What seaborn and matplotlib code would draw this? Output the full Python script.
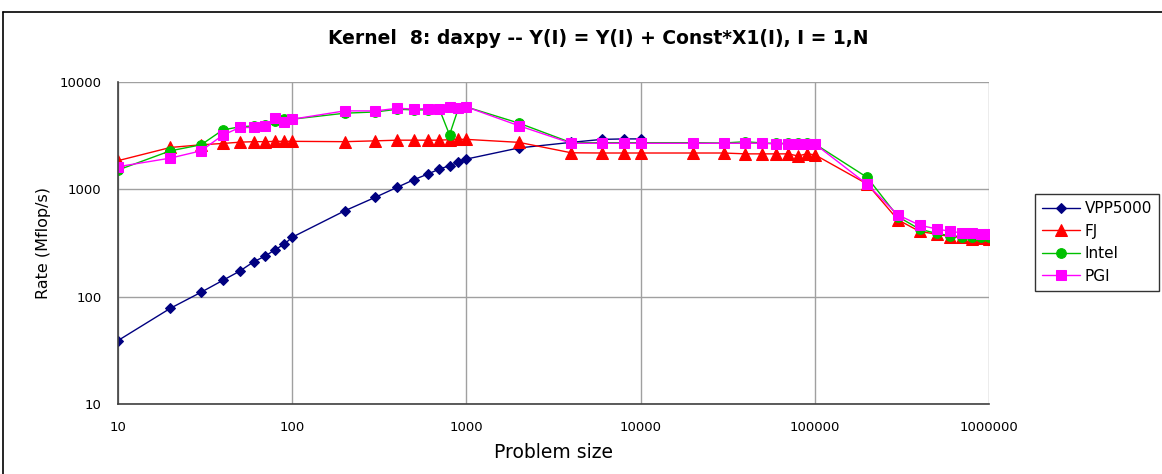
import numpy as np
import pandas as pd
import matplotlib
matplotlib.use("Agg")
import matplotlib.pyplot as plt
from matplotlib.lines import Line2D
import seaborn as sns

# Problem sizes (N) for each measured run
sizes_small = [10, 20, 30, 40, 50, 60, 70, 80, 90, 100,
               200, 300, 400, 500, 600, 700, 800, 900, 1000,
               2000, 4000, 6000, 8000, 10000]
sizes_large = [20000, 30000, 40000, 50000, 60000, 70000, 80000, 90000, 100000,
               200000, 300000, 400000, 500000, 600000, 700000, 800000, 900000, 1000000]
sizes_full = sizes_small + sizes_large

# Measured rates in Mflop/s
vpp5000 = [39, 78, 110, 142, 173, 211, 239, 275, 308, 358,
           630, 843, 1044, 1230, 1388, 1545, 1660, 1782, 1914,
           2430, 2740, 2920, 2950, 2950]
fj = [1850, 2455, 2600, 2675, 2750, 2780, 2780, 2800, 2800, 2800,
      2780, 2830, 2870, 2870, 2870, 2870, 2900, 2920, 2920,
      2740, 2190, 2180, 2180, 2180,
      2180, 2180, 2140, 2140, 2140, 2140, 2050, 2140, 2100,
      1120, 520, 405, 382, 363, 356, 344, 350, 346]
intel = [1513, 2286, 2600, 3580, 3820, 3900, 3950, 4345, 4570, 4500,
         5120, 5260, 5570, 5500, 5500, 5570, 3220, 5690, 5860,
         4140, 2720, 2720, 2720, 2720,
         2720, 2700, 2780, 2700, 2680, 2680, 2680, 2680, 2650,
         1290, 557, 425, 389, 369, 363, 358, 362, 362]
pgi = [1625, 1955, 2285, 3200, 3770, 3770, 3900, 4665, 4285, 4500,
       5380, 5380, 5690, 5600, 5650, 5570, 5820, 5730, 5860,
       3915, 2685, 2685, 2685, 2685,
       2685, 2685, 2685, 2685, 2650, 2650, 2650, 2650, 2650,
       1112, 578, 463, 428, 405, 393, 388, 380, 380]

series_names = ["VPP5000", "FJ", "Intel", "PGI"]
series_sizes = [sizes_small, sizes_full, sizes_full, sizes_full]
series_rates = [vpp5000, fj, intel, pgi]

x_ticks = [10, 100, 1000, 10000, 100000, 1000000]
y_ticks = [10, 100, 1000, 10000]

frames = [pd.DataFrame({"size": s, "rate": r, "compiler": n})
          for n, s, r in zip(series_names, series_sizes, series_rates)]
df = pd.concat(frames, ignore_index=True)

styles = {
    "VPP5000": dict(color="#000080", marker="D", ms=5.5),
    "FJ": dict(color="#ff0000", marker="^", ms=8),
    "Intel": dict(color="#00c000", marker="o", ms=7),
    "PGI": dict(color="#ff00ff", marker="s", ms=7.5),
}

sns.set_theme(style="white")
plt.rcParams["font.family"] = ["DejaVu Sans"]
plt.rcParams["text.color"] = "black"
plt.rcParams["axes.labelcolor"] = "black"
plt.rcParams["xtick.color"] = "black"
plt.rcParams["ytick.color"] = "black"

fig = plt.figure(figsize=(11.62, 4.74), dpi=100)
ax = fig.add_axes([118 / 1162, 1 - 404 / 474, (989 - 118) / 1162, (404 - 82) / 474])

for name in series_names:
    st = styles[name]
    sns.lineplot(data=df[df["compiler"] == name], x="size", y="rate", ax=ax,
                 color=st["color"], marker=st["marker"], markersize=st["ms"],
                 markeredgecolor=st["color"], linewidth=1.0, label=name,
                 estimator=None, sort=False)

ax.set_xscale("log")
ax.set_yscale("log")
ax.set_xlim(10, 1000000)
ax.set_ylim(10, 10000)
ax.set_xticks(x_ticks)
ax.set_xticklabels([str(v) for v in x_ticks])
ax.set_yticks(y_ticks)
ax.set_yticklabels([str(v) for v in y_ticks])
ax.minorticks_off()
ax.grid(True, which="major", color="#a0a0a0", linewidth=1.0)
ax.set_axisbelow(True)
for side in ["top", "right"]:
    ax.spines[side].set_visible(False)
for side in ["left", "bottom"]:
    ax.spines[side].set_color("#404040")
    ax.spines[side].set_linewidth(1.2)
ax.tick_params(axis="both", which="major", direction="out", length=4,
               color="#404040", labelcolor="black", labelsize=9.5, pad=8)

ax.set_xlabel("Problem size", fontsize=13.5, labelpad=7, color="black")
ax.set_ylabel("Rate (Mflop/s)", fontsize=11.5, labelpad=6, color="black")

fig.text(598 / 1162, 1 - 38 / 474,
         "Kernel  8: daxpy -- Y(I) = Y(I) + Const*X1(I), I = 1,N",
         ha="center", va="center", fontsize=13.5, fontweight="bold", color="black")

leg = ax.legend(loc="upper left", bbox_to_anchor=(1035 / 1162, 1 - 194 / 474),
                bbox_transform=fig.transFigure, frameon=True, fancybox=False,
                edgecolor="black", borderpad=0.45, borderaxespad=0.0,
                handlelength=2.5, handletextpad=0.3, labelspacing=0.5,
                prop={"size": 11}, labelcolor="black")
leg.get_frame().set_linewidth(1.0)

# chart-area border (top and left edges)
fig.add_artist(Line2D([3 / 1162, 1.0], [1 - 12 / 474, 1 - 12 / 474],
                      transform=fig.transFigure, color="black", linewidth=1.2))
fig.add_artist(Line2D([3 / 1162, 3 / 1162], [0.0, 1 - 12 / 474],
                      transform=fig.transFigure, color="black", linewidth=1.2))

fig.savefig("out.png", dpi=100)
